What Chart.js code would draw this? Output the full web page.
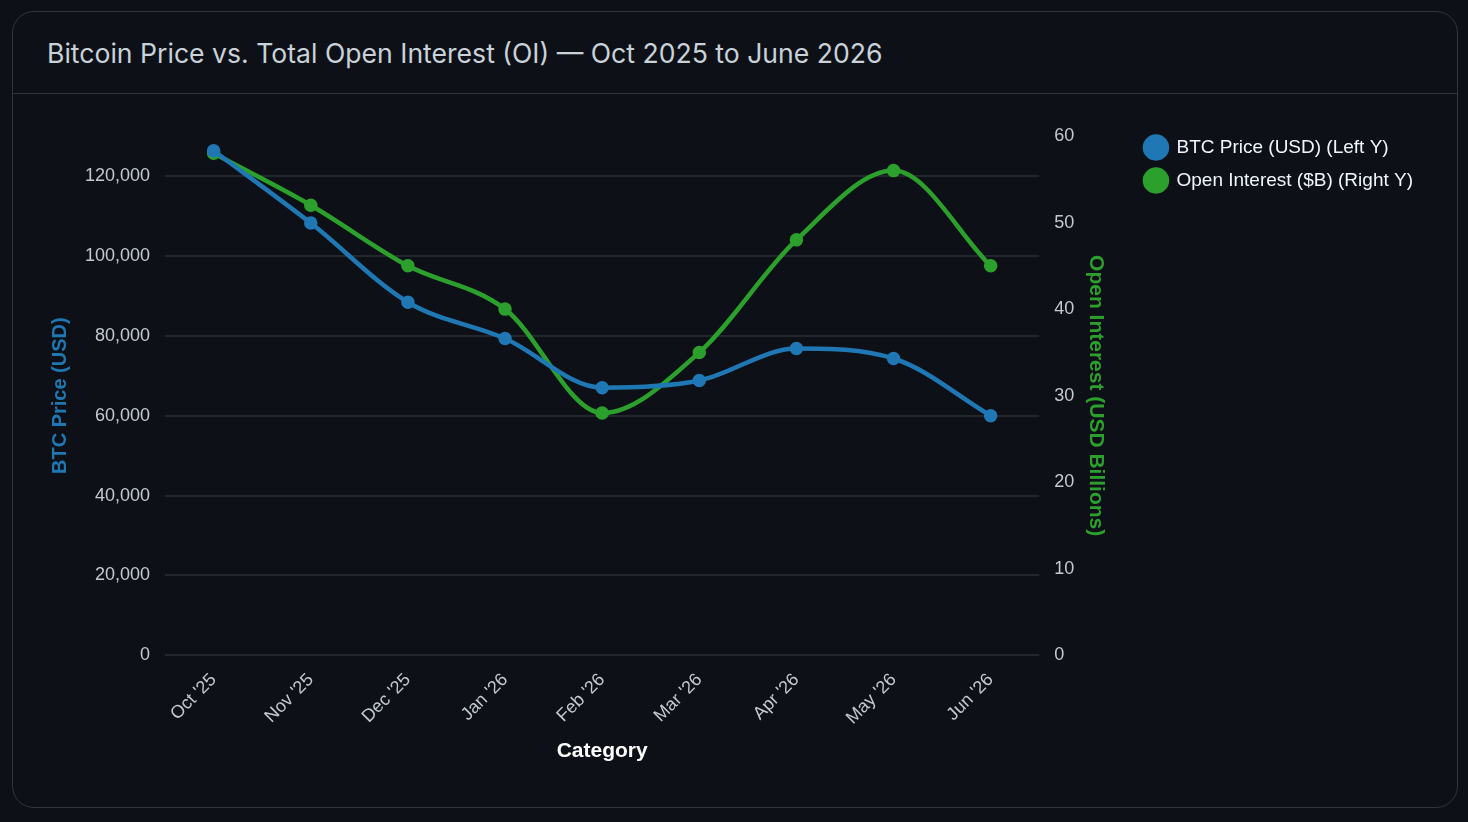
<!DOCTYPE html>
<html>
<head>
<meta charset="utf-8">
<script src="https://cdn.jsdelivr.net/npm/chart.js@4.4.1/dist/chart.umd.min.js"></script>
<style>
  html, body { margin: 0; padding: 0; background: #0d1117; }
  body { width: 1468px; height: 822px; overflow: hidden; }
  .card {
    position: absolute; left: 12px; top: 11px; width: 1446px; height: 797px;
    border: 1px solid #30363d; border-radius: 22px; background: #0d1117; box-sizing: border-box;
  }
  .card h2 {
    margin: 0; height: 81px; line-height: 82px; padding-left: 34px;
    font-family: Inter, "Liberation Sans", sans-serif; font-weight: normal; font-size: 26.6px;
    color: #c9d1d9; border-bottom: 1px solid #30363d;
  }
  .wrap { position: absolute; left: 20px; top: 96px; width: 1390px; height: 694px; }
</style>
</head>
<body>
<div class="card">
  <h2>Bitcoin Price vs. Total Open Interest (OI) — Oct 2025 to June 2026</h2>
  <div class="wrap"><canvas id="chart"></canvas></div>
</div>
<script>
const months = ["Oct '25", "Nov '25", "Dec '25", "Jan '26", "Feb '26", "Mar '26", "Apr '26", "May '26", "Jun '26"];
const btcPrice = [126300, 108200, 88400, 79300, 67000, 68800, 76800, 74300, 60000];
const openInterest = [58, 52, 45, 40, 28, 35, 48, 56, 45];
const priceTicks = [0, 20000, 40000, 60000, 80000, 100000, 120000];

const tickColor = '#c4c9d0';
const gridColor = '#22262d';
Chart.defaults.font.family = '"Liberation Sans", Arial, sans-serif';

// nudge the legend up so it lines up with the top of the plot
const legendNudge = {
    id: 'legendNudge',
    afterLayout: function (chart) {
        chart.legend.top -= 12;
        chart.legend.bottom -= 12;
    }
};

new Chart(document.getElementById('chart'), {
    type: 'line',
    data: {
        labels: months,
        datasets: [{
                label: 'BTC Price (USD) (Left Y)',
                data: btcPrice,
                yAxisID: 'y',
                borderColor: '#1f77b4',
                backgroundColor: '#1f77b4',
                borderWidth: 4.5,
                pointRadius: 4.5,
                cubicInterpolationMode: 'monotone'
            }, {
                label: 'Open Interest ($B) (Right Y)',
                data: openInterest,
                yAxisID: 'y1',
                borderColor: '#2ca02c',
                backgroundColor: '#2ca02c',
                borderWidth: 4.5,
                pointRadius: 4.5,
                cubicInterpolationMode: 'monotone'
            }]
    },
    options: {
        responsive: true,
        maintainAspectRatio: false,
        animation: false,
        layout: { padding: { left: 0, right: 0, top: 28, bottom: 34 } },
        plugins: {
            legend: {
                position: 'right',
                align: 'start',
                maxWidth: 330,
                labels: {
                    color: '#f0f6fc',
                    font: { size: 19 },
                    usePointStyle: true,
                    pointStyle: 'circle',
                    pointStyleWidth: 22,
                    boxHeight: 15.5,
                    padding: 14
                }
            }
        },
        scales: {
            x: {
                offset: true,
                afterFit: function (scale) {
                    scale.paddingLeft = 0;
                    scale.paddingRight = 0;
                },
                grid: { display: false },
                border: { display: false },
                ticks: { color: tickColor, font: { size: 18 }, maxRotation: 45, minRotation: 45, padding: 6 },
                title: { display: true, text: 'Category', color: '#ffffff', font: { size: 21, weight: 'bold' } }
            },
            y: {
                position: 'left',
                min: 0,
                max: 130000,
                afterBuildTicks: function (axis) {
                    axis.ticks = priceTicks.map(v => ({ value: v }));
                },
                grid: { color: gridColor, lineWidth: 2, drawTicks: false },
                border: { display: false },
                ticks: { color: tickColor, font: { size: 18 }, padding: 15 },
                title: { display: true, text: 'BTC Price (USD)', color: '#1f77b4', font: { size: 20, weight: 'bold' }, padding: { top: 15, bottom: -2 } }
            },
            y1: {
                position: 'right',
                min: 0,
                max: 60,
                ticks: { stepSize: 10, color: tickColor, font: { size: 18 }, padding: 15 },
                grid: { display: false, drawTicks: false },
                border: { display: false },
                title: { display: true, text: 'Open Interest (USD Billions)', color: '#2ca02c', font: { size: 21, weight: 'bold' }, padding: { top: 23, bottom: -6.5 } }
            }
        }
    },
    plugins: [legendNudge]
});
</script>
</body>
</html>
